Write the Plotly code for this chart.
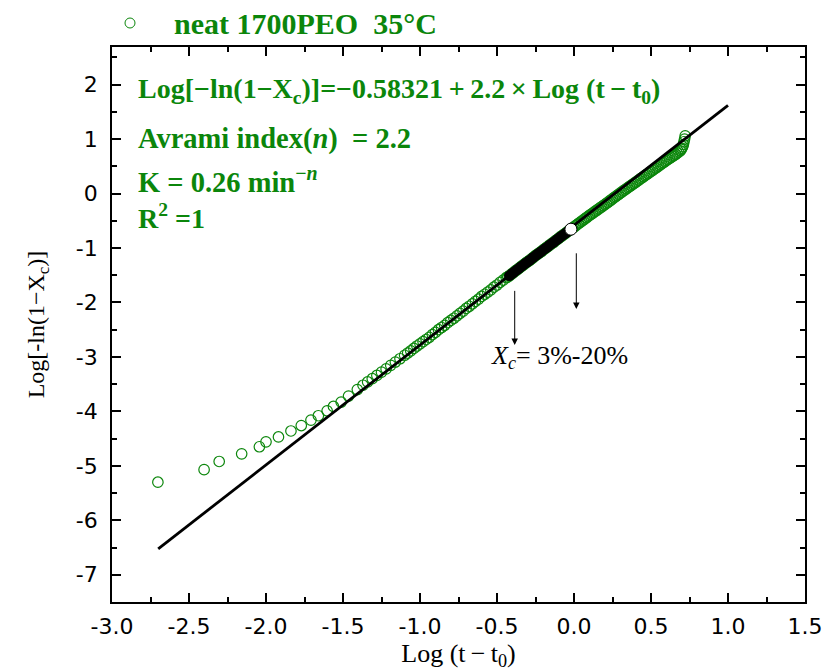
import plotly.graph_objects as go
import numpy as np

GREEN = "#0b860b"
SERIF = "Liberation Serif, Times New Roman, serif"
SANS = "DejaVu Sans, Arial, sans-serif"

# ---- data: Log(t - t0) vs Log[-ln(1 - Xc)] ----
log_t = [
    -2.702, -2.402, -2.304, -2.158, -2.043, -2.000, -1.919, -1.838, -1.771, -1.708,
    -1.660, -1.603, -1.562, -1.512, -1.464, -1.407,
    -1.37, -1.34, -1.31, -1.28, -1.25, -1.22, -1.19, -1.16, -1.13, -1.10,
    -1.08, -1.06, -1.04, -1.02, -1.00, -0.98, -0.96, -0.94, -0.92, -0.90,
    -0.88, -0.86, -0.84, -0.82, -0.80, -0.78, -0.76, -0.74, -0.72, -0.70,
    -0.68, -0.66, -0.64, -0.62, -0.60, -0.58, -0.56, -0.54, -0.52, -0.50,
    -0.48, -0.46, -0.44,
    -0.43, -0.42, -0.41, -0.40, -0.39, -0.38, -0.37, -0.36, -0.35, -0.34,
    -0.33, -0.32, -0.31, -0.30, -0.29, -0.28, -0.27, -0.26, -0.25, -0.24,
    -0.23, -0.22, -0.21, -0.20, -0.19, -0.18, -0.17, -0.16, -0.15, -0.14,
    -0.13, -0.12, -0.11, -0.10, -0.09, -0.08, -0.07, -0.06, -0.05, -0.04,
    -0.03, -0.02, -0.01, 0.00,
    0.01, 0.02, 0.03, 0.04, 0.05, 0.06, 0.07, 0.08, 0.09, 0.10,
    0.11, 0.12, 0.13, 0.14, 0.15, 0.16, 0.17, 0.18, 0.19, 0.20,
    0.21, 0.22, 0.23, 0.24, 0.25, 0.26, 0.27, 0.28, 0.29, 0.30,
    0.31, 0.32, 0.33, 0.34, 0.35, 0.36, 0.37, 0.38, 0.39, 0.40,
    0.41, 0.42, 0.43, 0.44, 0.45, 0.46, 0.47, 0.48, 0.49, 0.50,
    0.51, 0.52, 0.53, 0.54, 0.55, 0.56, 0.57, 0.58, 0.59, 0.60,
    0.61, 0.62, 0.63, 0.64, 0.65, 0.66, 0.67, 0.68, 0.69,
    0.695, 0.700, 0.705, 0.710, 0.714, 0.718, 0.722,
]
log_lnx = [
    -5.30, -5.07, -4.92, -4.78, -4.65, -4.56, -4.47, -4.36, -4.26, -4.16,
    -4.08, -3.99, -3.91, -3.83, -3.72, -3.60,
    -3.52, -3.46, -3.40, -3.34, -3.28, -3.22, -3.155, -3.095, -3.034, -2.97,
    -2.93, -2.89, -2.845, -2.80, -2.76, -2.72, -2.68, -2.64, -2.59, -2.55,
    -2.50, -2.46, -2.42, -2.37, -2.33, -2.29, -2.245, -2.20, -2.16, -2.11,
    -2.07, -2.025, -1.98, -1.94, -1.89, -1.85, -1.81, -1.77, -1.72, -1.68,
    -1.63, -1.59, -1.546,
    -1.53, -1.51, -1.49, -1.465, -1.445, -1.42, -1.40, -1.38, -1.355, -1.335,
    -1.315, -1.29, -1.27, -1.25, -1.23, -1.21, -1.185, -1.165, -1.14, -1.12,
    -1.10, -1.08, -1.06, -1.035, -1.015, -0.995, -0.975, -0.95, -0.93, -0.91,
    -0.89, -0.865, -0.845, -0.825, -0.80, -0.78, -0.76, -0.74, -0.72, -0.695,
    -0.675, -0.655, -0.635, -0.615,
    -0.592, -0.571, -0.550, -0.529, -0.508, -0.487, -0.466, -0.445, -0.424, -0.403,
    -0.383, -0.363, -0.343, -0.323, -0.303, -0.283, -0.263, -0.243, -0.223, -0.203,
    -0.182, -0.161, -0.140, -0.119, -0.098, -0.077, -0.056, -0.035, -0.014, 0.007,
    0.027, 0.047, 0.067, 0.087, 0.107, 0.127, 0.147, 0.167, 0.187, 0.207,
    0.227, 0.247, 0.267, 0.287, 0.307, 0.327, 0.347, 0.367, 0.387, 0.407,
    0.427, 0.447, 0.467, 0.487, 0.507, 0.527, 0.547, 0.567, 0.587, 0.607,
    0.626, 0.645, 0.664, 0.683, 0.702, 0.721, 0.741, 0.763, 0.785,
    0.81, 0.83, 0.86, 0.90, 0.95, 1.00, 1.06,
]

# Avrami fit printed on the chart
fit_intercept = -0.58321
fit_slope = 2.2
fit_x = [-2.7, 1.0]

# crystallinity window used for the fit
xc_low, xc_high = 0.03, 0.20

x_ticks = [-3.0, -2.5, -2.0, -1.5, -1.0, -0.5, 0.0, 0.5, 1.0, 1.5]
x_ticktext = ["-3.0", "-2.5", "-2.0", "-1.5", "-1.0", "-0.5", "0.0", "0.5", "1.0", "1.5"]
y_ticks = [-7, -6, -5, -4, -3, -2, -1, 0, 1, 2]
y_ticktext = ["-7", "-6", "-5", "-4", "-3", "-2", "-1", "0", "1", "2"]

series_name = "neat 1700PEO\u00a0\u00a035\u00b0C"

# ---- derived ----
lt = np.array(log_t)
ly = np.array(log_lnx)
fit_y = [fit_intercept + fit_slope * v for v in fit_x]
y_lo = np.log10(-np.log(1 - xc_low))
y_hi = np.log10(-np.log(1 - xc_high))
in_win = (ly >= y_lo) & (ly <= y_hi)
win_x, win_y = lt[in_win], ly[in_win]

# plot-area geometry in pixels
L, R, T, B = 112, 805, 47, 602
W, H = 827, 671

fig = go.Figure()
fig.add_trace(go.Scatter(
    x=log_t, y=log_lnx, mode="markers", name=series_name,
    marker=dict(symbol="circle-open", size=10.5, color=GREEN, line=dict(width=1.2)),
    showlegend=False,
))
fig.add_trace(go.Scatter(
    x=fit_x, y=fit_y, mode="lines", line=dict(color="black", width=2.8),
    showlegend=False,
))
fig.add_trace(go.Scatter(
    x=win_x, y=win_y, mode="markers",
    marker=dict(symbol="circle", size=10.5, color="black", line=dict(width=0)),
    showlegend=False,
))
fig.add_trace(go.Scatter(
    x=[win_x[-1]], y=[win_y[-1]], mode="markers",
    marker=dict(symbol="circle", size=12, color="white", line=dict(width=1, color="black")),
    showlegend=False,
))

axis_common = dict(
    showline=True, linecolor="black", linewidth=1.8, mirror="allticks",
    ticks="inside", ticklen=9, tickwidth=1.5, tickcolor="black",
    showgrid=False, zeroline=False, automargin=False,
    tickfont=dict(family=SANS, size=22, color="black"),
)

fig.update_xaxes(
    range=[-3.0, 1.5], tickvals=x_ticks, ticktext=x_ticktext, tickangle=0,
    minor=dict(ticks="inside", ticklen=5, tickwidth=1.5, dtick=0.25, tick0=0, tickcolor="black"),
    title=dict(text="Log (t\u2009\u2212\u2009t<sub>0</sub>)", font=dict(family=SERIF, size=26, color="black"), standoff=0),
    ticklabelstandoff=4,
    **axis_common,
)
fig.update_yaxes(
    range=[-7.5, 2.69], tickvals=y_ticks, ticktext=y_ticktext,
    minor=dict(ticks="inside", ticklen=5, tickwidth=1.5, dtick=0.5, tick0=0, tickcolor="black"),
    title=dict(text="Log[-ln(1\u2212X<sub>c</sub>)]", font=dict(family=SERIF, size=24, color="black"), standoff=24),
    ticklabelstandoff=8,
    **axis_common,
)

def px_x(px):
    return (px - L) / (R - L)

def px_y(py):
    return (B - py) / (B - T)

def ann(text, px, py, size=28, color=GREEN, family=SERIF, xanchor="left"):
    return dict(
        text=text, xref="paper", yref="paper", x=px_x(px), y=px_y(py),
        xanchor=xanchor, yanchor="middle", showarrow=False,
        font=dict(family=family, size=size, color=color),
    )

annotations = [
    ann("<b>" + series_name + "</b>", 172, 23, size=30),
    ann("<b>Log[\u2212ln(1\u2212X<sub>c</sub>)]=\u22120.58321\u2009+\u20092.2\u2009\u00d7\u2009Log (t\u2009\u2212\u2009t<sub>0</sub>)</b>", 136, 91, size=28),
    ann("<b>Avrami index(<i>n</i>)\u00a0\u00a0= 2.2</b>", 136, 139, size=28.5),
    ann("<b>K = 0.26 min<sup>\u2212<i>n</i></sup></b>", 136, 180, size=28.5),
    ann("<b>R<sup>2</sup> =1</b>", 136, 216, size=28),
    ann("<i>X<sub>c</sub></i>= 3%-20%", 489, 357, size=26, color="black"),
]
# arrows marking the ends of the fitting window
for ax_x, tail_y, head_y in [(-0.385, -1.76, -2.78), (0.015, -1.07, -2.12)]:
    annotations.append(dict(
        x=ax_x, y=head_y, ax=ax_x, ay=tail_y, xref="x", yref="y", axref="x", ayref="y",
        showarrow=True, arrowhead=2, arrowsize=1.3, arrowwidth=1, arrowcolor="black", text="",
    ))

# legend symbol (open circle) drawn next to the legend text
r_px = 5
shapes = [dict(
    type="circle", xref="paper", yref="paper",
    x0=px_x(130 - r_px), x1=px_x(130 + r_px), y0=px_y(23 + r_px), y1=px_y(23 - r_px),
    line=dict(color=GREEN, width=1), fillcolor="rgba(0,0,0,0)",
)]

fig.update_layout(
    width=W, height=H,
    margin=dict(l=L, r=W - R, t=T, b=H - B, autoexpand=False),
    paper_bgcolor="white", plot_bgcolor="white",
    annotations=annotations, shapes=shapes, showlegend=False,
)

fig.write_html("out.html")
